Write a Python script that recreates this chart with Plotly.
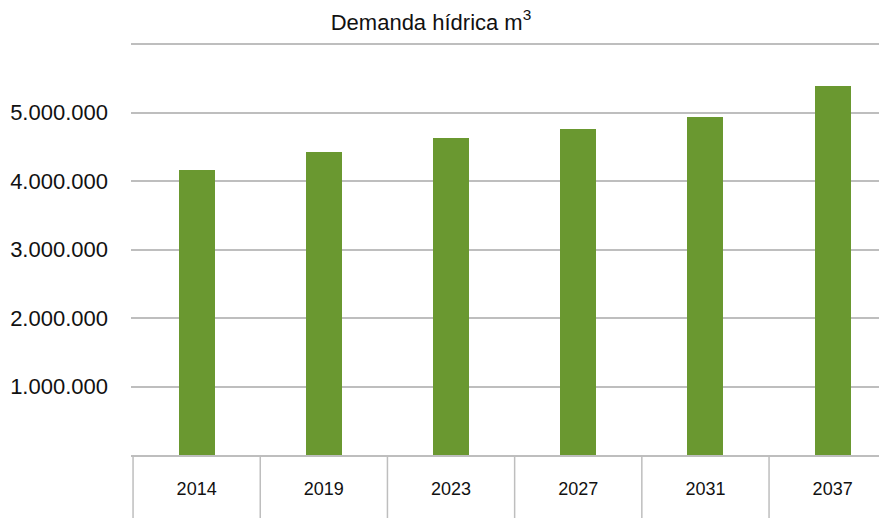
import plotly.graph_objects as go

years = ["2014", "2019", "2023", "2027", "2031", "2037"]
demand = [4160000, 4430000, 4630000, 4760000, 4940000, 5380000]
y_tickvals = [0, 1000000, 2000000, 3000000, 4000000, 5000000, 6000000]
y_ticktext = ["", "1.000.000", "2.000.000", "3.000.000", "4.000.000", "5.000.000", ""]

FONT = "Liberation Sans, Arial, sans-serif"
W, H = 879, 518
ML, MR, MT, MB = 131, 0, 43, 63
plot_h = H - MT - MB
plot_w = W - ML - MR
CAT_PX = 127.2  # pixel width of one category column in the reference
x_lo = -0.516
x_hi = x_lo + plot_w / CAT_PX

fig = go.Figure()
fig.add_trace(go.Bar(
    x=years, y=demand, width=0.283,
    marker=dict(color="#6A9830", line=dict(width=0)),
    hoverinfo="x+y",
))

# category table boundaries below the axis
shapes = []
for i in range(len(years) + 1):
    shapes.append(dict(type="line", xref="x", yref="paper",
                       x0=i - 0.5, x1=i - 0.5, y0=0, y1=-(MB + 10) / plot_h,
                       line=dict(color="#BEBEBE", width=1.5)))

fig.update_layout(
    width=W, height=H,
    margin=dict(l=ML, r=MR, t=MT, b=MB),
    paper_bgcolor="white", plot_bgcolor="white",
    showlegend=False,
    shapes=shapes,
    title=dict(text="Demanda hídrica m<sup>3</sup>", x=431 / W, xanchor="center",
               y=1 - 22 / H, yanchor="middle", xref="container", yref="container",
               font=dict(family=FONT, size=22, color="#111111")),
    xaxis=dict(type="category", range=[x_lo, x_hi], showgrid=False,
               showline=True, linecolor="#BEBEBE", linewidth=1.5,
               ticks="", tickfont=dict(family=FONT, size=18, color="#111111"),
               ticklabelstandoff=17, fixedrange=True),
    yaxis=dict(range=[0, 6015000], tickvals=y_tickvals, ticktext=y_ticktext,
               showgrid=True, gridcolor="#BEBEBE", gridwidth=1.5,
               zeroline=False, showline=False, ticks="",
               tickfont=dict(family=FONT, size=22, color="#111111"),
               ticklabelstandoff=22, fixedrange=True),
    bargap=0,
)

fig.write_html(
    "out.html",
    config={"displayModeBar": False},
    post_script="document.body.style.margin='0';document.body.style.overflow='hidden';",
)
